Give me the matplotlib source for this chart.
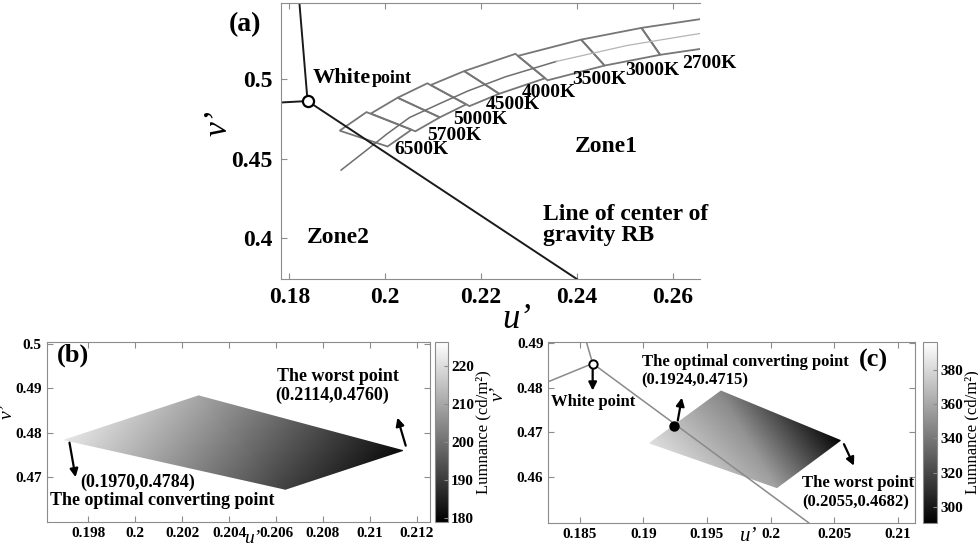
import numpy as np
import matplotlib
matplotlib.use("Agg")
import matplotlib.pyplot as plt

plt.rcParams['font.family'] = ['Liberation Serif', 'DejaVu Serif']
plt.rcParams['font.weight'] = 'bold'

# ---------------- data ----------------
# ANSI quadrangles in u'v' (corners: upper, left, lower, right)
cct_names = ["2700K", "3000K", "3500K", "4000K", "4500K", "5000K", "5700K", "6500K"]
quad_u = [
    [0.2666, 0.2535, 0.2574, 0.2696],
    [0.2535, 0.2409, 0.2458, 0.2574],
    [0.2409, 0.2277, 0.2339, 0.2458],
    [0.2272, 0.2165, 0.2238, 0.2334],
    [0.2165, 0.2095, 0.2176, 0.2238],
    [0.2088, 0.2026, 0.2114, 0.2169],
    [0.2026, 0.1970, 0.2063, 0.2114],
    [0.1961, 0.1905, 0.2005, 0.2055],
]
quad_v = [
    [0.5384, 0.5325, 0.5155, 0.5209],
    [0.5325, 0.5251, 0.5087, 0.5155],
    [0.5251, 0.5148, 0.4994, 0.5087],
    [0.5161, 0.5052, 0.4909, 0.5007],
    [0.5052, 0.4964, 0.4831, 0.4909],
    [0.4975, 0.4884, 0.4760, 0.4842],
    [0.4884, 0.4784, 0.4672, 0.4760],
    [0.4793, 0.4676, 0.4576, 0.4682],
]
# planckian locus (middle line)
locus_u = [0.1908, 0.1960, 0.2004, 0.2051, 0.2114, 0.2173, 0.2251, 0.2357, 0.2505, 0.2625, 0.2680]
locus_v = [0.4427, 0.4550, 0.4656, 0.4759, 0.4847, 0.4927, 0.5016, 0.5113, 0.5214, 0.5274, 0.5300]

# panel (a) lines
wp_a = (0.1838, 0.4863)
upper_a = (0.1821, 0.5482)
left_a = (0.1783, 0.4854)
rb_end_a = (0.2400, 0.3739)

# panel (b): 5700K quadrangle with luminance at corners (left, top, right, bottom)
b_u = [0.1970, 0.2027, 0.2114, 0.2064]
b_v = [0.4784, 0.4883, 0.4760, 0.4673]
b_lum = [222, 210, 181, 191]

# panel (c): 6500K quadrangle
c_u = [0.1905, 0.1961, 0.2055, 0.2005]
c_v = [0.4676, 0.4793, 0.4682, 0.4576]
c_lum = [383, 346, 292, 357]
wp_c = (0.1860, 0.4855)
upper_c = (0.1855, 0.4904)
left_c = (0.1825, 0.4814)
rb_end_c = (0.2030, 0.4497)
opt_c = (0.1924, 0.4715)

tri = [[0, 1, 3], [1, 2, 3]]

fig = plt.figure(figsize=(9.79, 5.5), dpi=100)

def style_axes(ax, size, right=True):
    for s in ax.spines.values():
        s.set_color('#8c8c8c')
    ax.spines['right'].set_visible(right)
    ax.tick_params(direction='in', top=True, right=right, length=4,
                   color='#8c8c8c', labelsize=size)

# ---------------- panel (a) ----------------
axa = fig.add_axes([0.2870, 0.4927, 0.4280, 0.5018])
for qu, qv in zip(quad_u, quad_v):
    axa.fill(qu, qv, facecolor='none', edgecolor='#767676', lw=1.3)
axa.plot(locus_u[:8], locus_v[:8], color='#6e6e6e', lw=1.1)
axa.plot(locus_u[7:], locus_v[7:], color='#b4b4b4', lw=0.9)
axa.plot([upper_a[0], wp_a[0]], [upper_a[1], wp_a[1]], color='#1a1a1a', lw=1.4)
axa.plot([left_a[0], wp_a[0]], [left_a[1], wp_a[1]], color='#1a1a1a', lw=1.4)
axa.plot([wp_a[0], rb_end_a[0]], [wp_a[1], rb_end_a[1]], color='#1a1a1a', lw=1.4)
axa.plot(*wp_a, 'o', ms=8, mfc='white', mec='black', mew=1.6)

lab_pos = [(0.2620, 0.5103), (0.2501, 0.5059), (0.2390, 0.4996), (0.2286, 0.4920),
           (0.2210, 0.4838), (0.2142, 0.4749), (0.2087, 0.4648), (0.2020, 0.4560)]
for name, (x, y) in zip(cct_names, lab_pos):
    axa.text(x, y, name, fontsize=14, ha='left', va='center', clip_on=False)
axa.text(0.1849, 0.4977, "White", fontsize=16, ha='left', va='baseline')
axa.text(0.1971, 0.4977, "point", fontsize=13, ha='left', va='baseline')
axa.text(0.2461, 0.4579, "Zone1", fontsize=17, ha='center', va='center')
axa.text(0.1902, 0.4004, "Zone2", fontsize=17, ha='center', va='center')
axa.text(0.2329, 0.4080, "Line of center of\ngravity RB", fontsize=17,
         ha='left', va='center', linespacing=1.0)
axa.set_xlim(0.17825, 0.26571)
axa.set_ylim(0.3739, 0.5482)
axa.set_xticks([0.18, 0.2, 0.22, 0.24, 0.26])
axa.set_xticklabels(['0.18', '0.2', '0.22', '0.24', '0.26'])
axa.set_yticks([0.4, 0.45, 0.5])
axa.set_yticklabels(['0.4', '0.45', '0.5'])
style_axes(axa, 17, right=False)
axa.tick_params(pad=6)
axa.set_xlabel("u’", fontsize=25, style='italic')
axa.set_ylabel("v’", fontsize=24, style='italic')
axa.xaxis.set_label_coords(0.563, -0.087)
axa.yaxis.set_label_coords(-0.112, 0.565)
fig.text(0.2503, 0.9545, "(a)", fontsize=20, ha='center', va='center')

# ---------------- panel (b) ----------------
axb = fig.add_axes([0.0477, 0.0515, 0.3915, 0.3273])
pb = axb.tripcolor(b_u, b_v, tri, b_lum, shading='gouraud', cmap='gray',
                   vmin=179, vmax=226.5)
arrow = dict(arrowstyle='-|>', color='black', lw=1.6, mutation_scale=12)
axb.annotate('', xy=(0.19748, 0.4694), xytext=(0.19718, 0.4784), arrowprops=arrow)
axb.annotate('', xy=(0.21114, 0.4840), xytext=(0.21156, 0.4765), arrowprops=arrow)
axb.text(0.19765, 0.4688, "(0.1970,0.4784)", fontsize=13, ha='left', va='center')
axb.text(0.19637, 0.4648, "The optimal converting point", fontsize=13, ha='left', va='center')
axb.text(0.20604, 0.49276, "The worst point", fontsize=13, ha='left', va='center')
axb.text(0.20595, 0.48838, "(0.2114,0.4760)", fontsize=13, ha='left', va='center')
axb.text(0.19733, 0.4975, "(b)", fontsize=19, ha='center', va='center')
axb.set_xlim(0.19623, 0.21256)
axb.set_ylim(0.4600, 0.5005)
axb.set_xticks([0.198, 0.2, 0.202, 0.204, 0.206, 0.208, 0.21, 0.212])
axb.set_xticklabels(['0.198', '0.2', '0.202', '0.204', '0.206', '0.208', '0.21', '0.212'])
axb.set_yticks([0.47, 0.48, 0.49, 0.5])
axb.set_yticklabels(['0.47', '0.48', '0.49', '0.5'])
style_axes(axb, 11)
axb.set_xlabel("u’", fontsize=14, style='italic')
axb.set_ylabel("v’", fontsize=14, style='italic')
axb.xaxis.set_label_coords(0.537, -0.045)
axb.yaxis.set_label_coords(-0.080, 0.612)

caxb = fig.add_axes([0.4443, 0.0515, 0.0136, 0.3273])
cbb = fig.colorbar(pb, cax=caxb)
cbb.set_ticks([180, 190, 200, 210, 220])
cbb.outline.set_edgecolor('#8c8c8c')
caxb.tick_params(direction='in', length=3, color='#8c8c8c', labelsize=11, pad=2)
cbb.set_label("Lumnance (cd/m²)", fontsize=12, labelpad=1)

# ---------------- panel (c) ----------------
axc = fig.add_axes([0.5601, 0.0496, 0.3746, 0.3291])
pc = axc.tripcolor(c_u, c_v, tri, c_lum, shading='gouraud', cmap='gray',
                   vmin=290.3, vmax=396.5)
axc.plot([upper_c[0], wp_c[0]], [upper_c[1], wp_c[1]], color='#8a8a8a', lw=1.1)
axc.plot([left_c[0], wp_c[0]], [left_c[1], wp_c[1]], color='#8a8a8a', lw=1.1)
axc.plot([wp_c[0], rb_end_c[0]], [wp_c[1], rb_end_c[1]], color='#8a8a8a', lw=1.1)
axc.plot(*wp_c, 'o', ms=6, mfc='white', mec='black', mew=1.4)
axc.plot(*opt_c, 'o', ms=6.5, color='black')
axc.annotate('', xy=(0.18600, 0.4788), xytext=(0.18600, 0.4848), arrowprops=arrow)
axc.annotate('', xy=(0.19306, 0.47843), xytext=(0.19266, 0.47207), arrowprops=arrow)
axc.annotate('', xy=(0.20666, 0.46196), xytext=(0.20569, 0.46793), arrowprops=arrow)
axc.text(0.18600, 0.47692, "White point", fontsize=12, ha='center', va='center')
axc.text(0.18986, 0.48591, "The optimal converting point", fontsize=12, ha='left', va='center')
axc.text(0.18986, 0.48169, "(0.1924,0.4715)", fontsize=12, ha='left', va='center')
axc.text(0.20246, 0.45858, "The worst point", fontsize=12, ha='left', va='center')
axc.text(0.20246, 0.45427, "(0.2055,0.4682)", fontsize=12, ha='left', va='center')
axc.text(0.20810, 0.48629, "(c)", fontsize=19, ha='center', va='center')
axc.set_xlim(0.18251, 0.21138)
axc.set_ylim(0.4497, 0.4904)
axc.set_xticks([0.185, 0.19, 0.195, 0.2, 0.205, 0.21])
axc.set_xticklabels(['0.185', '0.19', '0.195', '0.2', '0.205', '0.21'])
axc.set_yticks([0.46, 0.47, 0.48, 0.49])
axc.set_yticklabels(['0.46', '0.47', '0.48', '0.49'])
style_axes(axc, 11)
axc.set_xlabel("u’", fontsize=15, style='italic')
axc.set_ylabel("v’", fontsize=14, style='italic')
axc.xaxis.set_label_coords(0.546, -0.024)
axc.yaxis.set_label_coords(-0.113, 0.714)

caxc = fig.add_axes([0.9431, 0.0485, 0.0145, 0.3302])
cbc = fig.colorbar(pc, cax=caxc)
cbc.set_ticks([300, 320, 340, 360, 380])
cbc.outline.set_edgecolor('#8c8c8c')
caxc.tick_params(direction='in', length=3, color='#8c8c8c', labelsize=11, pad=2)
cbc.set_label("Lumnance (cd/m²)", fontsize=12, labelpad=1)

fig.savefig("out.png", dpi=100)
